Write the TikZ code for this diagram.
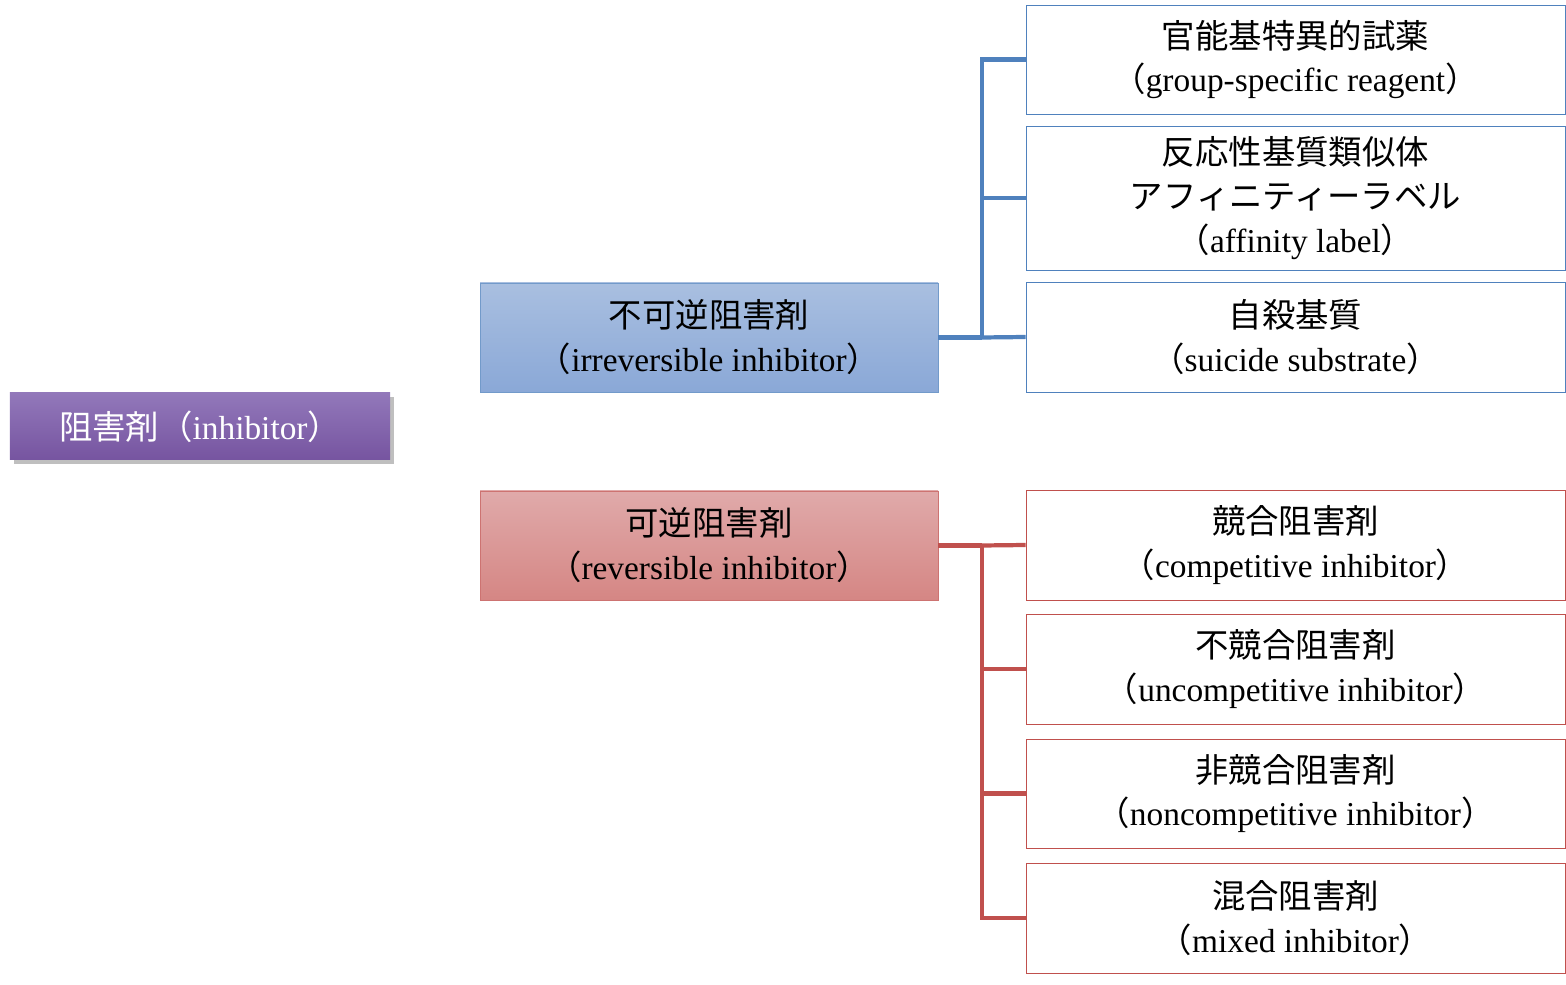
\documentclass[tikz,border=0pt]{standalone}
\usepackage{fontspec}
\setmainfont{Liberation Serif}
\newfontfamily\cjk{Noto Sans CJK JP}
\usetikzlibrary{shadows}
\definecolor{irrblue}{RGB}{79,129,189}
\definecolor{revred}{RGB}{192,80,77}
\tikzset{
  box/.style = {draw, align=center, font=\fontsize{19}{25}\selectfont, inner sep=0pt},
  leaf/.style = {box, minimum width=10.78cm, fill=white},
  link/.style = {line width=2.4pt}
}
\begin{document}
\begin{tikzpicture}[scale = 1]
\useasboundingbox (0.0, 0.0) rectangle (31.32, -19.7);
% root
\node[box, draw=none, text=white, top color={rgb,255:red,146;green,120;blue,186}, bottom color={rgb,255:red,118;green,84;blue,160}, minimum width=7.6cm, minimum height=1.34cm, drop shadow] (inh) at (4.0, -8.53){{\cjk 阻害剤（}inhibitor{\cjk ）}};
% second level
\node[box, draw=irrblue!80, top color={rgb,255:red,169;green,191;blue,224}, bottom color={rgb,255:red,138;green,168;blue,215}, minimum width=9.16cm, minimum height=2.18cm] (irr) at (14.18, -6.75){{\cjk 不可逆阻害剤}\\{\cjk （}irreversible inhibitor{\cjk ）}};
\node[box, draw=revred!80, top color={rgb,255:red,224;green,170;blue,170}, bottom color={rgb,255:red,213;green,134;blue,132}, minimum width=9.16cm, minimum height=2.18cm] (rev) at (14.18, -10.91){{\cjk 可逆阻害剤}\\{\cjk （}reversible inhibitor{\cjk ）}};
% irreversible leaves
\node[leaf, draw=irrblue, minimum height=2.18cm] (grp) at (25.91, -1.19){{\cjk 官能基特異的試薬}\\{\cjk （}group-specific reagent{\cjk ）}};
\node[leaf, draw=irrblue, minimum height=2.88cm] (aff) at (25.91, -3.96){{\cjk 反応性基質類似体}\\{\cjk アフィニティーラベル}\\{\cjk （}affinity label{\cjk ）}};
\node[leaf, draw=irrblue, minimum height=2.2cm] (sui) at (25.91, -6.74){{\cjk 自殺基質}\\{\cjk （}suicide substrate{\cjk ）}};
% reversible leaves
\node[leaf, draw=revred, minimum height=2.2cm] (com) at (25.91, -10.9){{\cjk 競合阻害剤}\\{\cjk （}competitive inhibitor{\cjk ）}};
\node[leaf, draw=revred, minimum height=2.2cm] (unc) at (25.91, -13.38){{\cjk 不競合阻害剤}\\{\cjk （}uncompetitive inhibitor{\cjk ）}};
\node[leaf, draw=revred, minimum height=2.18cm] (non) at (25.91, -15.87){{\cjk 非競合阻害剤}\\{\cjk （}noncompetitive inhibitor{\cjk ）}};
\node[leaf, draw=revred, minimum height=2.2cm] (mix) at (25.91, -18.36){{\cjk 混合阻害剤}\\{\cjk （}mixed inhibitor{\cjk ）}};
% brackets
\coordinate (bj) at (19.64, -6.75);
\coordinate (rj) at (19.64, -10.91);
\draw[link, irrblue] (irr.east) -- (bj);
\draw[link, irrblue] (bj) |- (grp.west);
\draw[link, irrblue] (bj) |- (aff.west);
\draw[link, irrblue] (bj) -- (sui.west);
\draw[link, revred] (rev.east) -- (rj);
\draw[link, revred] (rj) -- (com.west);
\draw[link, revred] (rj) |- (unc.west);
\draw[link, revred] (rj) |- (non.west);
\draw[link, revred] (rj) |- (mix.west);
\end{tikzpicture}
\end{document}
